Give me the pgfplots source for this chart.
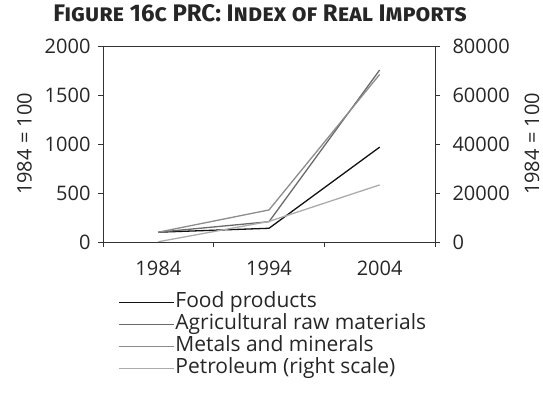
\documentclass[border=0pt]{standalone}
\usepackage{pgfplots}
\pgfplotsset{compat=1.18}
\usepackage{fontspec}
\setmainfont{Open Sans}
\newfontfamily\titlefont{Fira Sans}
\definecolor{axisgray}{HTML}{333333}
\definecolor{foodc}{HTML}{111111}
\definecolor{agric}{HTML}{6A6A6A}
\definecolor{metalc}{HTML}{8C8C8C}
\definecolor{petrc}{HTML}{ABABAB}
\begin{document}
\begin{tikzpicture}
\pgfplotsset{
  every axis/.append style={
    scale only axis, width=332pt, height=196pt,
    xmin=0, xmax=3,
    axis line style={axisgray, line width=0.9pt},
    tick style={axisgray, line width=0.9pt},
    tick align=outside,
    major tick length=5pt,
    tick label style={font=\fontsize{20}{22}\selectfont, text=black!85},
    label style={font=\fontsize{20}{22}\selectfont, text=black!85},
    /pgf/number format/assume math mode=true,
    /pgf/number format/1000 sep={},
    scaled y ticks=false,
  },
}
\begin{axis}[
  name=main,
  ymin=0, ymax=2000,
  ytick={0,500,1000,1500,2000},
  ytick pos=left,
  yticklabel style={xshift=-4pt},
  xtick={0.5,1.5,2.5},
  xticklabels={1984,1994,2004},
  xticklabel style={yshift=-10pt},
  xtick pos=bottom,
  major x tick style={draw=none},
  minor xtick={0,1,2,3},
  minor tick length=5pt,
  ylabel={1984 = 100},
  ylabel style={yshift=6pt},
  title={\titlefont\fontsize{24}{27}\selectfont\bfseries\scshape Figure 16c PRC: Index of Real Imports},
  title style={yshift=15pt, xshift=-9pt, text=black!85},
  legend style={at={(0.045,-0.25)}, anchor=north west, draw=none, fill=none,
    font=\fontsize{21}{22}\selectfont, row sep=0pt, inner sep=0pt,
    nodes={inner sep=1pt, text height=15pt, text depth=5pt, text=black!85}},
  legend cell align=left,
  legend image code/.code={\draw[#1] (0pt,0pt) -- (55pt,0pt);},
]
\coordinate (o) at (rel axis cs:0,0);
\addplot[foodc, line width=1.3pt] coordinates {(0.5,100) (1.5,140) (2.5,968)};
\addlegendentry{Food products}
\addplot[agric, line width=1.3pt] coordinates {(0.5,100) (1.5,207) (2.5,1755)};
\addlegendentry{Agricultural raw materials}
\addplot[metalc, line width=1.3pt] coordinates {(0.5,100) (1.5,327) (2.5,1710)};
\addlegendentry{Metals and minerals}
\addlegendimage{petrc, line width=1.3pt}
\addlegendentry{Petroleum (right scale)}
\end{axis}
\begin{axis}[
  ymin=0, ymax=80000,
  ytick={0,20000,40000,60000,80000},
  axis y line*=right,
  axis x line=none,
  yticklabel style={xshift=9pt},
  ylabel={1984 = 100},
  ylabel style={rotate=0, yshift=-8pt},
]
\addplot[petrc, line width=1.3pt] coordinates {(0.5,100) (1.5,8400) (2.5,23300)};
\end{axis}
\pgfresetboundingbox
\path (o) ++(-103pt,-164pt) rectangle ++(543pt,406pt);
\end{tikzpicture}
\end{document}
